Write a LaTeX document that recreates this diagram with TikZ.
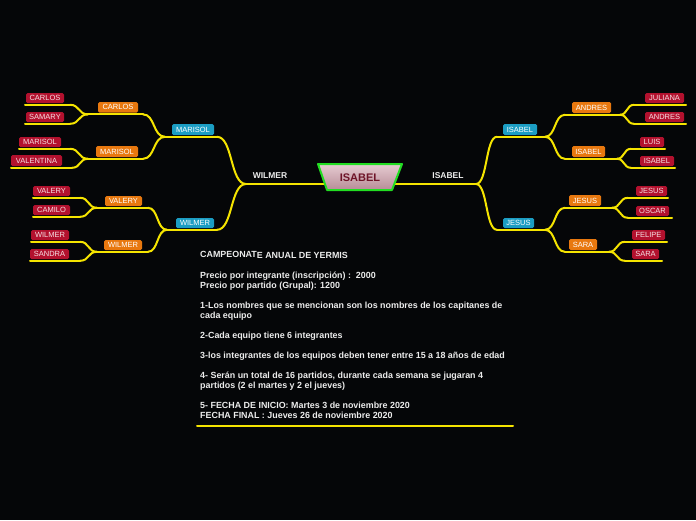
\documentclass[tikz,border=0pt]{standalone}
\usepackage{fontspec}
\setmainfont{Liberation Sans}
\usetikzlibrary{calc}
\definecolor{cbg}{HTML}{050608}
\definecolor{cred}{HTML}{B3112E}
\definecolor{cpink}{HTML}{F5E0E4}
\definecolor{corange}{HTML}{E8780F}
\definecolor{cblue}{HTML}{1B9DC3}
\definecolor{cyel}{HTML}{F5E400}
\definecolor{cgreen}{HTML}{22DD22}
\definecolor{ctop}{HTML}{E6CCD2}
\definecolor{cbot}{HTML}{B88C97}
\definecolor{cmaroon}{HTML}{6E1428}
\definecolor{ctext}{HTML}{ECECEC}
\tikzset{
  mbox/.style={rectangle, rounded corners=1.5pt, inner sep=0pt, font=\fontsize{7.5}{8}\selectfont, text=white},
  redbox/.style={mbox, fill=cred, text=cpink},
  orgbox/.style={mbox, fill=corange},
  bluebox/.style={mbox, fill=cblue},
  link/.style={draw=cyel, line width=2pt, line cap=round},
  scurve/.style={to path={let \p1=(\tikztostart), \p2=(\tikztotarget), \n1={0.55*(\x2-\x1)} in .. controls +({\n1},0) and +({-\n1},0) .. (\tikztotarget)}},
  lbl/.style={font=\bfseries\fontsize{8.5}{9}\selectfont, text=ctext, inner sep=0pt},
}
\newcommand\mmbox[9]{%
  \node[#2, minimum width=#5pt, minimum height=#6pt] (#1) at (#3,#4) {#7};
  \coordinate (#1-l) at (#8,{#4+#6/2+1.8});
  \coordinate (#1-r) at (#9,{#4+#6/2+1.8});
  \draw[link] (#1-l) -- (#1-r);
}
\begin{document}
\begin{tikzpicture}[x=1pt,y=-1pt]
\fill[cbg] (0,0) rectangle (696,520);
\useasboundingbox (0,0) rectangle (696,520);

% left side
\mmbox{mar1}{bluebox}{193}{129.5}{42}{11}{MARISOL}{165}{217}
\mmbox{carO}{orgbox}{118}{107.3}{40}{10.5}{CARLOS}{88}{143}
\mmbox{carR}{redbox}{45}{98}{38}{10}{CARLOS}{25}{70}
\mmbox{samR}{redbox}{45}{117}{38}{10}{SAMARY}{25}{70}
\mmbox{marO}{orgbox}{117}{151.5}{42}{11}{MARISOL}{88}{143}
\mmbox{marR}{redbox}{40}{142}{42}{10}{MARISOL}{19}{70}
\mmbox{vlnR}{redbox}{36.5}{160.5}{51}{11}{VALENTINA}{11}{72}
\mmbox{wil1}{bluebox}{195}{223}{38}{10}{WILMER}{167}{217}
\mmbox{valO}{orgbox}{123.5}{201}{37}{10}{VALERY}{97}{148}
\mmbox{valR}{redbox}{51.5}{191}{37}{10}{VALERY}{33}{80}
\mmbox{camR}{redbox}{51.5}{210}{37}{10}{CAMILO}{33}{80}
\mmbox{wilO}{orgbox}{123}{245}{38}{10}{WILMER}{97}{148}
\mmbox{wilR}{redbox}{50}{235}{38}{10}{WILMER}{31}{80}
\mmbox{sanR}{redbox}{49.5}{254}{39}{10}{SANDRA}{30}{80}

% right side
\mmbox{isa1}{bluebox}{520}{129.5}{34}{11}{ISABEL}{497}{545}
\mmbox{andO}{orgbox}{591.5}{107.5}{39}{11}{ANDRES}{565}{620}
\mmbox{julR}{redbox}{664.5}{98}{39}{10}{JULIANA}{634}{686}
\mmbox{andR}{redbox}{664.5}{117}{39}{10}{ANDRES}{634}{686}
\mmbox{isaO}{orgbox}{588.5}{151.5}{33}{11}{ISABEL}{565}{617}
\mmbox{luiR}{redbox}{652}{142}{24}{10}{LUIS}{631}{665}
\mmbox{isaR}{redbox}{657}{161}{34}{10}{ISABEL}{631}{675}
\mmbox{jes1}{bluebox}{518.5}{223}{31}{10}{JESUS}{497}{545}
\mmbox{jesO}{orgbox}{585}{200.5}{32}{11}{JESUS}{565}{612}
\mmbox{jesR}{redbox}{651.5}{191}{31}{10}{JESUS}{628}{668}
\mmbox{oscR}{redbox}{652.5}{211}{33}{10}{OSCAR}{628}{672}
\mmbox{sarO}{orgbox}{583}{244.5}{28}{11}{SARA}{565}{609}
\mmbox{felR}{redbox}{648.5}{235}{33}{10}{FELIPE}{625}{667}
\mmbox{sarR}{redbox}{645.5}{254}{27}{10}{SARA}{625}{662}

% connectors left
\draw[link] (carR-r) to[scurve] (carO-l);
\draw[link] (samR-r) to[scurve] (carO-l);
\draw[link] (marR-r) to[scurve] (marO-l);
\draw[link] (vlnR-r) to[scurve] (marO-l);
\draw[link] (carO-r) to[scurve] (mar1-l);
\draw[link] (marO-r) to[scurve] (mar1-l);
\draw[link] (valR-r) to[scurve] (valO-l);
\draw[link] (camR-r) to[scurve] (valO-l);
\draw[link] (wilR-r) to[scurve] (wilO-l);
\draw[link] (sanR-r) to[scurve] (wilO-l);
\draw[link] (valO-r) to[scurve] (wil1-l);
\draw[link] (wilO-r) to[scurve] (wil1-l);

% connectors right
\draw[link] (andO-r) to[scurve] (julR-l);
\draw[link] (andO-r) to[scurve] (andR-l);
\draw[link] (isaO-r) to[scurve] (luiR-l);
\draw[link] (isaO-r) to[scurve] (isaR-l);
\draw[link] (isa1-r) to[scurve] (andO-l);
\draw[link] (isa1-r) to[scurve] (isaO-l);
\draw[link] (jesO-r) to[scurve] (jesR-l);
\draw[link] (jesO-r) to[scurve] (oscR-l);
\draw[link] (sarO-r) to[scurve] (felR-l);
\draw[link] (sarO-r) to[scurve] (sarR-l);
\draw[link] (jes1-r) to[scurve] (jesO-l);
\draw[link] (jes1-r) to[scurve] (sarO-l);

% main branches
\coordinate (mL) at (246,184);
\coordinate (cL) at (326,184);
\coordinate (mR) at (476,184);
\coordinate (cR) at (394,184);
\draw[link] (cL) -- (mL);
\draw[link] (mar1-r) to[scurve] (mL);
\draw[link] (wil1-r) to[scurve] (mL);
\draw[link] (cR) -- (mR);
\draw[link] (mR) to[scurve] (isa1-l);
\draw[link] (mR) to[scurve] (jes1-l);
\node[lbl] (lw) at (270,176) {WILMER};
\node[lbl] (li) at (448,176) {ISABEL};

% central topic
\coordinate (t1) at (318,164);
\coordinate (t2) at (402,164);
\coordinate (t3) at (392,190);
\coordinate (t4) at (327,190);
\shade[top color=ctop, bottom color=cbot] (t1) -- (t2) -- (t3) -- (t4) -- cycle;
\draw[cgreen, line width=2pt, line join=round] (t1) -- (t2) -- (t3) -- (t4) -- cycle;
\node[font=\bfseries\fontsize{11}{12}\selectfont, text=cmaroon, inner sep=0pt] (c) at (360,177.5) {ISABEL};

% notes
\node[anchor=north west, inner sep=0pt, align=left, text=ctext,
      font=\bfseries\fontsize{8.9}{10.06}\selectfont] (notes) at (200,251.5)
{CAMPEONAT\raisebox{-1pt}{E ANUAL DE YERMIS}\\
\mbox{}\\
Precio por integrante (inscripción) :\ \ 2000\\
Precio por partido (Grupal): 1200\\
\mbox{}\\
1-Los nombres que se mencionan son los nombres de los capitanes de\\
cada equipo\\
\mbox{}\\
2-Cada equipo tiene 6 integrantes\\
\mbox{}\\
3-los integrantes de los equipos deben tener entre 15 a 18 años de edad\\
\mbox{}\\
4- Serán un total de 16 partidos, durante cada semana se jugaran 4\\
partidos (2 el martes y 2 el jueves)\\
\mbox{}\\
5- FECHA DE INICIO: Martes 3 de noviembre 2020\\
FECHA FINAL : Jueves 26 de noviembre 2020};
\coordinate (u1) at (197,426);
\coordinate (u2) at (513,426);
\draw[link] (u1) -- (u2);
\end{tikzpicture}
\end{document}
